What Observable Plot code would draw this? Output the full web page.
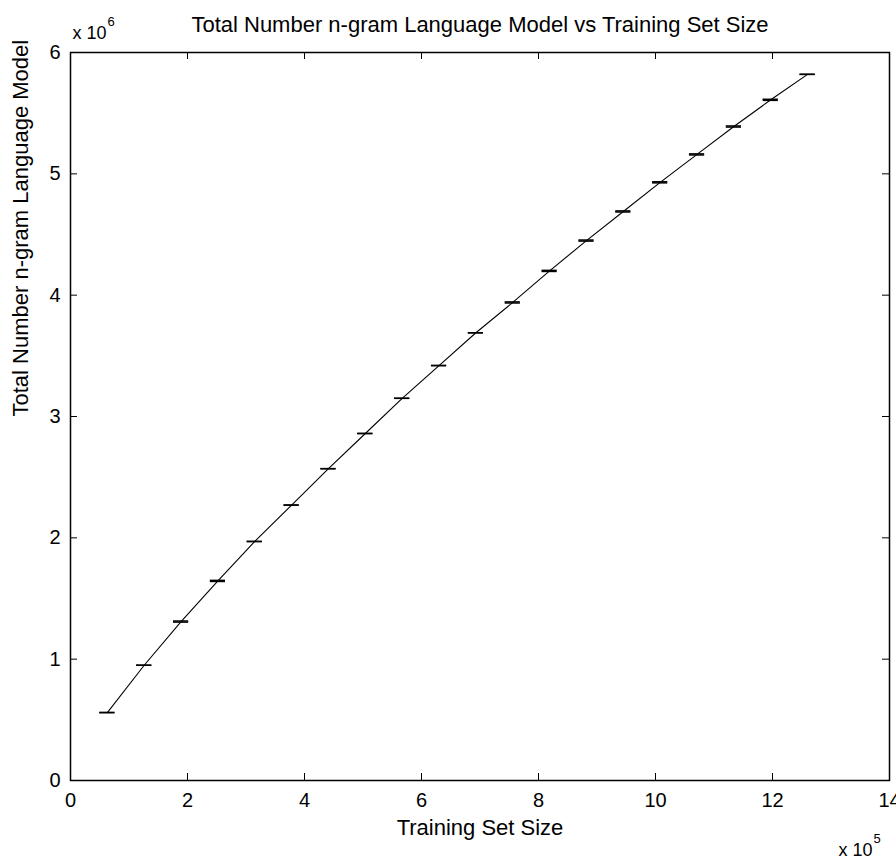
<!DOCTYPE html>
<html><head><meta charset="utf-8">
<script src="https://cdn.jsdelivr.net/npm/d3@7"></script>
<script src="https://cdn.jsdelivr.net/npm/@observablehq/plot@0.6"></script>
<style>body{margin:0;background:#fff}</style>
</head><body><div id="chart"></div>
<script>
// Data (training set size, total n-grams)
const trainingSize = [63000,126000,189000,252000,315000,378000,441000,504000,567000,630000,693000,756000,819000,882000,945000,1008000,1071000,1134000,1197000,1260000];
const totalNgrams = [560000,950000,1310000,1645000,1970000,2270000,2570000,2860000,3150000,3420000,3690000,3940000,4200000,4450000,4690000,4930000,5160000,5390000,5610000,5820000];
const errHalf = [0,0,4500,4500,0,0,0,0,0,0,0,4500,4500,4500,4500,4500,4500,4500,4500,0];
const xTicks = [0,200000,400000,600000,800000,1000000,1200000,1400000];
const yTicks = [0,1000000,2000000,3000000,4000000,5000000,6000000];
const title = "Total Number n-gram Language Model vs Training Set Size";
const xLabel = "Training Set Size";
const yLabel = "Total Number n-gram Language Model";
const xExp = "5", yExp = "6";

const data = trainingSize.map((x, i) => ({x, y: totalNgrams[i], e: errHalf[i]}));
const W = 896, H = 858, mL = 70, mR = 7, mT = 52, mB = 78;
const innerW = W - mL - mR, innerH = H - mT - mB;
const tick = 7;
const capHalf = 13000;
const font = "'Liberation Sans', Arial, Helvetica, sans-serif";

const chart = Plot.plot({
  width: W, height: H,
  marginLeft: mL, marginRight: mR, marginTop: mT, marginBottom: mB,
  style: {fontFamily: font, fontSize: "20px", background: "#fff", color: "#000", overflow: "visible"},
  x: {domain: [0, 1400000]},
  y: {domain: [0, 6000000]},
  marks: [
    Plot.line(data, {x: "x", y: "y", stroke: "#000", strokeWidth: 1.1}),
    Plot.ruleY(data, {y: d => d.y + d.e, x1: d => d.x - capHalf, x2: d => d.x + capHalf, stroke: "#000", strokeWidth: 1.5}),
    Plot.ruleY(data, {y: d => d.y - d.e, x1: d => d.x - capHalf, x2: d => d.x + capHalf, stroke: "#000", strokeWidth: 1.5}),
    Plot.tickX(xTicks, {x: d => d, insetTop: innerH - tick, stroke: "#000"}),
    Plot.tickX(xTicks, {x: d => d, insetBottom: innerH - tick, stroke: "#000"}),
    Plot.tickY(yTicks, {y: d => d, insetRight: innerW - tick, stroke: "#000"}),
    Plot.tickY(yTicks, {y: d => d, insetLeft: innerW - tick, stroke: "#000"}),
    Plot.frame({stroke: "#000", strokeWidth: 1.5}),
    Plot.axisX(xTicks, {tickSize: 0, tickPadding: 12, tickFormat: d => d / 1e5, label: null, fontSize: 20}),
    Plot.axisY(yTicks, {tickSize: 0, tickPadding: 10, tickFormat: d => d / 1e6, label: null, fontSize: 20}),
    Plot.text([title], {frameAnchor: "top", dy: -21, lineAnchor: "bottom", fontSize: 22}),
    Plot.text([xLabel], {frameAnchor: "bottom", dy: 54, lineAnchor: "bottom", fontSize: 22}),
    Plot.text([yLabel], {frameAnchor: "left", dx: -50, rotate: -90, lineAnchor: "middle", fontSize: 22}),
    Plot.text(["x 10"], {frameAnchor: "top-left", dx: 2, dy: -14, textAnchor: "start", lineAnchor: "bottom", fontSize: 18}),
    Plot.text([yExp], {frameAnchor: "top-left", dx: 37, dy: -27, textAnchor: "start", lineAnchor: "bottom", fontSize: 13}),
    Plot.text(["x 10"], {frameAnchor: "bottom-right", dx: -51, dy: 75, textAnchor: "start", lineAnchor: "bottom", fontSize: 18}),
    Plot.text([xExp], {frameAnchor: "bottom-right", dx: -16, dy: 62, textAnchor: "start", lineAnchor: "bottom", fontSize: 13})
  ]
});
document.getElementById("chart").appendChild(chart);
</script>
</body></html>
